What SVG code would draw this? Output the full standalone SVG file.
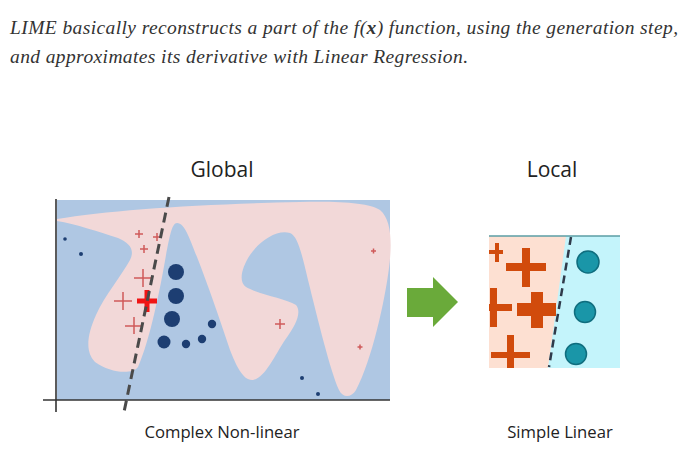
<svg xmlns="http://www.w3.org/2000/svg" width="691" height="457" viewBox="0 0 691 457">
<style>
.hdr{font-family:"Liberation Serif",serif;font-style:italic;font-size:19.5px;fill:#333}
.ttl{font-family:"Open Sans","Noto Sans",sans-serif;font-size:21px;fill:#222;text-anchor:middle}
.cap{font-family:"Open Sans","Noto Sans",sans-serif;font-size:16.7px;fill:#222;text-anchor:middle}
.rp{stroke:#cf5a5a;stroke-width:1.5;fill:none}
.dot{fill:#1d3e72}
.op{fill:#d14b0c}
.tc{fill:#1a96a8;stroke:#0f6d7e;stroke-width:1.5}
</style>
<defs>
<clipPath id="lc"><rect x="489" y="236" width="131" height="132"/></clipPath>
</defs>
<rect width="691" height="457" fill="#fff"/>
<text class="hdr" x="10" y="34" textLength="668" lengthAdjust="spacing">LIME basically reconstructs a part of the f(<tspan font-weight="bold">x</tspan>) function, using the generation step,</text>
<text class="hdr" x="10" y="63" textLength="458" lengthAdjust="spacing">and approximates its derivative with Linear Regression.</text>

<g id="global">
<text class="ttl" x="222" y="177">Global</text>
<rect x="57" y="200" width="333" height="200" fill="#afc7e3"/>
<path fill="#f2d8d8" d="M57,219 C110,210 200,204 300,202 C340,201 370,203 380,210 C392,220 392,245 389,268 C385,300 372,360 356,390 C351,398 343,398 339,390 C330,370 318,320 308,280 C302,255 298,236 290,233 C278,229 260,240 250,255 C242,267 238,282 246,287 C260,295 285,298 296,305 C302,312 296,325 285,340 C275,355 265,378 253,380 C243,381 236,365 230,350 C220,320 208,285 197,257 C190,240 185,223 177,223 C172,223 170,235 166,255 C160,290 150,340 138,367 C132,375 110,373 95,362 C85,352 87,335 96,315 C105,295 122,275 130,260 C135,250 130,243 118,238 C100,232 75,224 57,221 Z"/>
<g class="dots">
<circle class="dot" cx="65" cy="239" r="1.8"/>
<circle class="dot" cx="81" cy="254" r="2"/>
<circle class="dot" cx="176" cy="272" r="8"/>
<circle class="dot" cx="176" cy="296" r="8"/>
<circle class="dot" cx="172" cy="319" r="8"/>
<circle class="dot" cx="164" cy="342" r="6.5"/>
<circle class="dot" cx="186" cy="344" r="4.2"/>
<circle class="dot" cx="202" cy="339" r="4.2"/>
<circle class="dot" cx="212" cy="324" r="4.2"/>
<circle class="dot" cx="302" cy="378" r="2"/>
<circle class="dot" cx="318" cy="394" r="2"/>
</g>
<g class="pluses">
<path class="rp" d="M135,234h8M139,230v8"/>
<path class="rp" d="M153,237h8M157,233v8"/>
<path class="rp" d="M140,249h8M144,245v8"/>
<path class="rp" d="M134,278h18M143,269v18"/>
<path class="rp" d="M114,301h18M123,292v18"/>
<path class="rp" d="M125,326h17M134,317v17"/>
<path class="rp" d="M275,324h10M280,319v10"/>
<path class="rp" stroke-width="1" d="M371,251h5M373.5,248.5v5"/>
<path class="rp" stroke-width="1" d="M357.5,347h5M360,344.5v5"/>
<path d="M137,301h20M147,290v22" stroke="#f01515" stroke-width="5" fill="none"/>
</g>
<line x1="169" y1="197" x2="124" y2="412" stroke="#4a4a4a" stroke-width="3" stroke-dasharray="10 6"/>
<line x1="56" y1="199" x2="56" y2="412" stroke="#333" stroke-width="1.6"/>
<line x1="43" y1="400" x2="390" y2="400" stroke="#333" stroke-width="1.6"/>
<text class="cap" x="222" y="438">Complex Non-linear</text>
</g>

<g id="connectors">
<path d="M407,288H433V277L458,302L433,327V317H407Z" fill="#6aaa3a"/>
</g>

<g id="local">
<text class="ttl" x="552" y="177">Local</text>
<g clip-path="url(#lc)">
<rect x="489" y="236" width="131" height="132" fill="#c4f4fb"/>
<path d="M489,236H566L548,368H489Z" fill="#fde0d2"/>
<path class="op" d="M489,250h14v4h-14zM495,243h4v19h-4z"/>
<path class="op" d="M506,263h40v8h-40zM522,248h8v39h-8z"/>
<path class="op" d="M489,304h23v7h-23zM490,288h7v39h-7z"/>
<path class="op" d="M517,303h39v13h-39zM531,292h12v36h-12z"/>
<path class="op" d="M491,352h39v6h-39zM507,335h7v35h-7z"/>
<line x1="571" y1="237" x2="549" y2="367" stroke="#2f3a4a" stroke-width="2.5" stroke-dasharray="8 5"/>
<circle class="tc" cx="588" cy="262" r="11"/>
<circle class="tc" cx="585" cy="312" r="10.5"/>
<circle class="tc" cx="576" cy="354" r="10.5"/>
</g>
<line x1="489" y1="236" x2="620" y2="236" stroke="#5b9ea5" stroke-width="1.5"/>
<text class="cap" x="560" y="438">Simple Linear</text>
</g>
</svg>
